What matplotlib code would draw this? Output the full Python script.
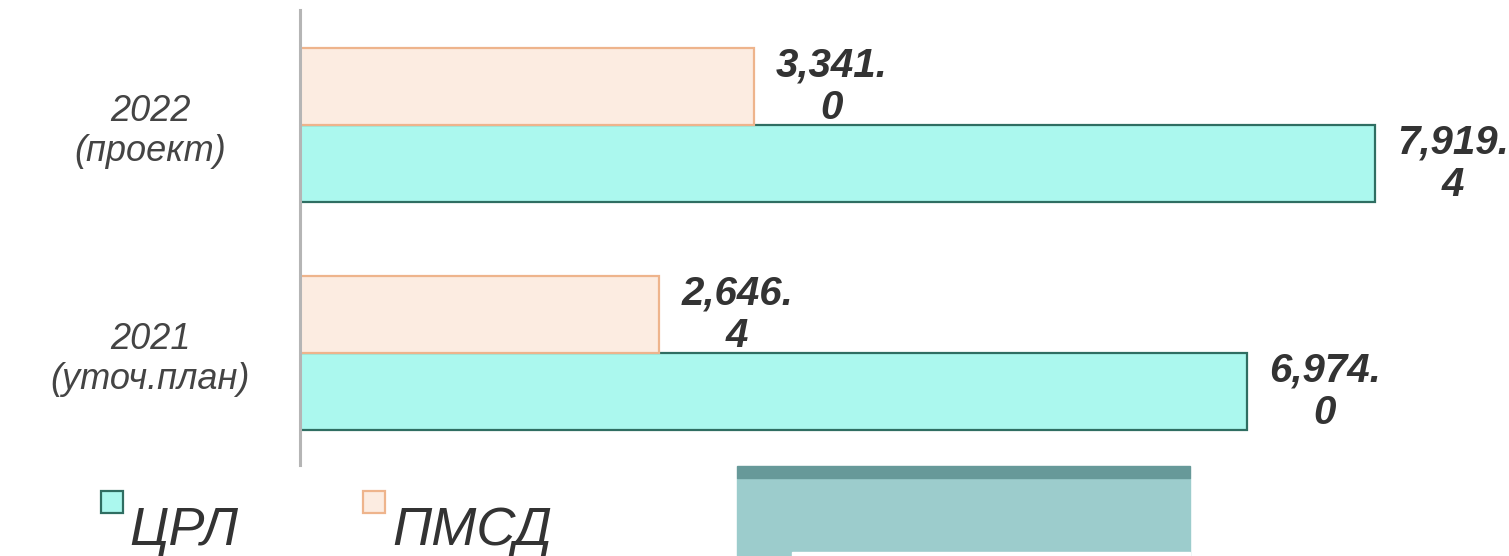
import matplotlib.pyplot as plt
import matplotlib.patches as mpatches
from matplotlib.legend_handler import HandlerPatch
import numpy as np

plt.rcParams['font.family'] = ['Liberation Sans', 'DejaVu Sans']

years = ['2021\n(уточ.план)', '2022\n(проект)']
crl = [6974.0, 7919.4]
pmsd = [2646.4, 3341.0]
series_names = ['ЦРЛ', 'ПМСД']

crl_face, crl_edge = '#abf8ee', '#2f6e62'
pmsd_face, pmsd_edge = '#fcece1', '#eeb48c'
text_col = '#333333'

fig = plt.figure(figsize=(15.09, 5.56), dpi=100)
ax = fig.add_axes([300/1509, 91/556, 1209/1509, 455/556])

y = np.arange(len(years))
h = 0.338
b1 = ax.barh(y - h/2, crl, height=h, color=crl_face, edgecolor=crl_edge,
             linewidth=1.6)
b2 = ax.barh(y + h/2, pmsd, height=h, color=pmsd_face, edgecolor=pmsd_edge,
             linewidth=1.6)

for bars, vals in ((b1, crl), (b2, pmsd)):
    for bar, v in zip(bars, vals):
        lab = f'{v:,.1f}'.replace('.', '.\n')
        ax.annotate(lab, (bar.get_width(), bar.get_y() + bar.get_height()/2),
                    xytext=(56, 0), textcoords='offset points',
                    ha='center', va='center', fontsize=29, fontweight='bold',
                    fontstyle='italic', color=text_col, linespacing=1.15)

ax.set_xlim(0, 1209/0.1358)
ax.set_ylim(-0.491, 1.504)
ax.set_xticks([])
ax.set_yticks(y)
ax.set_yticklabels(years, fontsize=26, fontstyle='italic', color='#444444',
                   ha='center')
ax.tick_params(axis='y', length=0, pad=108)
for s in ['top', 'right', 'bottom']:
    ax.spines[s].set_visible(False)
ax.spines['left'].set_color('#b5b5b5')
ax.spines['left'].set_linewidth(2.2)


def top_square(legend, orig_handle, xdescent, ydescent, width, height, fontsize):
    s = fontsize * 0.4
    return mpatches.Rectangle((-xdescent, fontsize * 0.6), s, s)


fig.legend(handles=[b1.patches[0], b2.patches[0]], labels=series_names,
           loc='lower left', bbox_to_anchor=(0.067, 0.0),
           ncol=2, frameon=False, prop={'style': 'italic', 'size': 39},
           handlelength=0.4, handletextpad=0.13, columnspacing=2.3, borderpad=0,
           borderaxespad=0, labelcolor=text_col,
           handler_map={mpatches.Rectangle: HandlerPatch(patch_func=top_square)})

# slide artefact at the bottom
fig.patches.append(mpatches.Rectangle((737/1509, 0), 453/1509, 78/556,
                                      transform=fig.transFigure,
                                      color='#9ccccc', zorder=0))
fig.patches.append(mpatches.Rectangle((737/1509, 78/556), 453/1509, 12/556,
                                      transform=fig.transFigure,
                                      color='#679999', zorder=0))
fig.patches.append(mpatches.Rectangle((792/1509, 0), 398/1509, 4/556,
                                      transform=fig.transFigure,
                                      color='white', zorder=0))

fig.savefig('out.png', dpi=100)
